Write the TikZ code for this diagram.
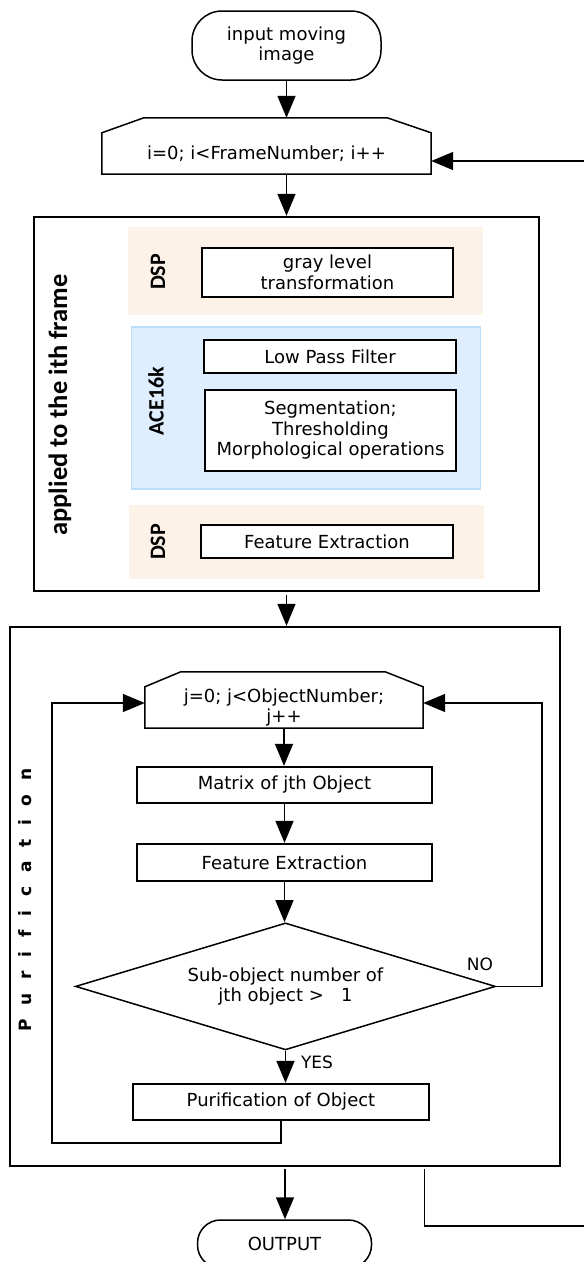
\documentclass[tikz,border=0pt]{standalone}
\usepackage{fontspec}
\setmainfont{DejaVu Sans}
\newfontfamily\sidefont{Carlito}
\newfontfamily\spacedfont{DejaVu Sans}[LetterSpace=46]
\usetikzlibrary{arrows.meta,calc,shapes.geometric}
\definecolor{dspfill}{RGB}{253,242,232}
\definecolor{acefill}{RGB}{222,238,255}
\definecolor{aceline}{RGB}{187,222,250}

\begin{document}
\begin{tikzpicture}[x=1pt,y=1pt,
  every node/.style={font=\fontsize{18}{20.5}\selectfont, inner sep=0pt, text=black},
  box/.style={draw, fill=white, line width=2.3pt, align=center},
  term/.style={draw, line width=1.5pt, align=center},
  frame/.style={draw, line width=2.4pt},
  dspband/.style={fill=dspfill},
  aceband/.style={fill=acefill, draw=aceline, line width=1.5pt},
  tag/.style={font=\sidefont\bfseries\fontsize{22}{24}\selectfont, rotate=90},
  wire/.style={line width=1.5pt},
  flow/.style={line width=1.5pt, -{Triangle[length=22pt,width=18pt]}},
  answer/.style={font=\fontsize{17}{20}\selectfont}
]
\useasboundingbox (0,0) rectangle (584,-1262);

% start terminal
\node[term, rounded corners=30pt, minimum width=189pt, minimum height=69pt] (start)
  at (286.5,-45.5) {input moving\\image};

% outer frame loop (body of the chamfered limit box)
\node[minimum width=329pt, minimum height=41pt] (loopi) at (266.5,-153.5) {i=0; i<FrameNumber; i++};
\draw[wire] (loopi.south west) -- (loopi.north west) -- ++(42,15)
  -- ($(loopi.north east)+(-44,15)$) -- (loopi.north east) -- (loopi.south east) -- cycle;
\coordinate (loopitop) at ($(loopi.north)+(0,15)$);

% per-frame processing
\node[frame, minimum width=505pt, minimum height=374pt] (phase) at (286.5,-404) {};
\node[font=\sidefont\bfseries\fontsize{26.5}{28}\selectfont, rotate=90] (applied) at (60,-405) {applied to the ith frame};

\node[dspband, minimum width=355pt, minimum height=88pt] (dsp1) at (305.5,-271) {};
\node[box, minimum width=251pt, minimum height=49pt] (gray) at (327.5,-272.5) {gray level\\transformation};
\node[tag] (dsp1tag) at (158,-272) {DSP};

\node[aceband, minimum width=349pt, minimum height=162pt] (ace) at (306,-408) {};
\node[box, minimum width=251.5pt, minimum height=33pt] (lpf) at (330,-356.5) {Low Pass Filter};
\node[box, minimum width=251pt, minimum height=81pt] (seg) at (330.5,-430.5)
  {Segmentation;\\Thresholding\\Morphological operations};
\node[tag] (acetag) at (156,-401) {ACE16k};

\node[dspband, minimum width=355pt, minimum height=74pt] (dsp2) at (306.5,-542) {};
\node[box, minimum width=251.5pt, minimum height=33pt] (feat) at (327,-541.5) {Feature Extraction};
\node[tag] (dsp2tag) at (158,-542) {DSP};

% purification stage
\node[frame, minimum width=550pt, minimum height=539pt] (purif) at (285,-896.5) {};
\node[font=\spacedfont\bfseries\fontsize{17}{19}\selectfont, rotate=90] (purlabel) at (25,-900)
  {P u r i f i c a t i o n};

\node[minimum width=278pt, minimum height=41pt, align=center] (loopj) at (284,-707.5)
  {j=0; j<ObjectNumber;\\j++};
\draw[wire] (loopj.south west) -- (loopj.north west) -- ++(36,15)
  -- ($(loopj.north east)+(-38,15)$) -- (loopj.north east) -- (loopj.south east) -- cycle;

\node[box, minimum width=295pt, minimum height=36pt] (matrix) at (284.5,-785) {Matrix of jth Object};
\node[box, minimum width=295pt, minimum height=37pt] (feat2) at (284.5,-862.5) {Feature Extraction};
\node[diamond, draw, line width=1.5pt, aspect=3.3, minimum width=420pt, minimum height=127pt, align=center]
  (cond) at (285.5,-986.4) {Sub-object number of\\jth object >\ \ \ 1};
\node[box, minimum width=296.5pt, minimum height=36pt] (pobj) at (281,-1102) {Purification of Object};

% end terminal
\node[term, rounded corners=23pt, minimum width=174pt, minimum height=48pt] (output)
  at (284.5,-1244) {OUTPUT};

% answers
\node[answer] (no) at (480,-964) {NO};
\node[answer] (yes) at (317,-1062) {YES};

% connectors
\coordinate (jl) at (52,-703);
\coordinate (jr) at (542,-703);
\coordinate (rb) at (424.6,-1226);
\coordinate (ret) at (600,-161);

\draw[flow] (start.south) -- (start.south |- loopitop);
\draw[flow] (loopi.south -| phase.north) -- (phase.north);
\draw[flow] ($(phase.south)+(0,-3)$) -- (phase.south |- purif.north);
\draw[flow] (loopj.south) -- (loopj.south |- matrix.north);
\draw[flow] (matrix.south) -- (feat2.north);
\draw[flow] (feat2.south) -- (feat2.south |- cond.north);
\draw[flow] (cond.south) -- (cond.south |- pobj.north);
\draw[flow] (pobj.south) -- ++(0,-22) -| (jl) -- (jl -| loopj.west);
\draw[flow] (cond.east) -| (jr) -- (jr -| loopj.east);
\draw[flow] ($(purif.south)+(0,-2)$) -- (purif.south |- output.north);
\draw[flow] ($(purif.south -| rb)+(0,-2)$) -- (rb) -| (ret) -- (ret -| loopi.east);
\end{tikzpicture}
\end{document}
